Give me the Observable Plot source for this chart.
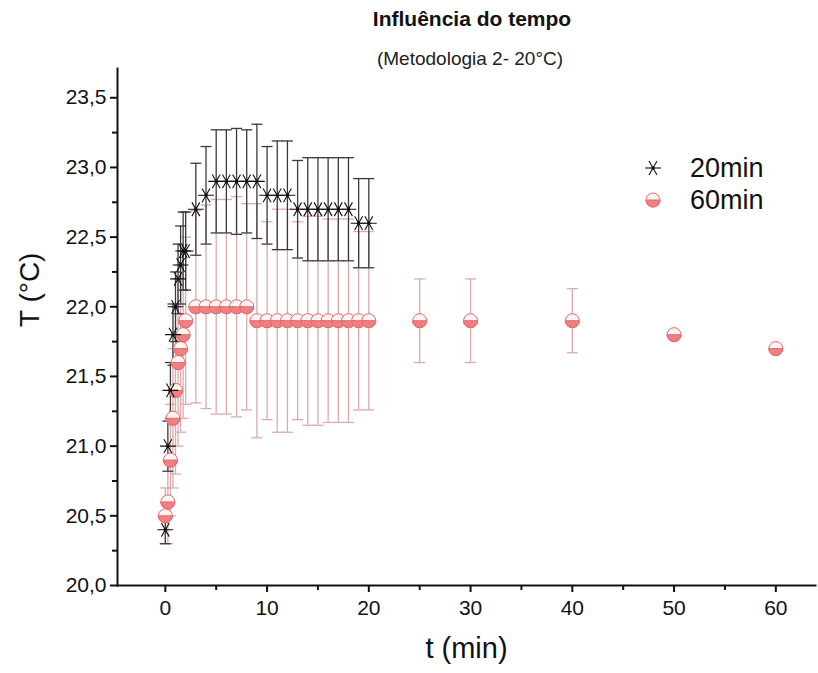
<!DOCTYPE html>
<html>
<head>
<meta charset="utf-8">
<script src="https://cdn.jsdelivr.net/npm/d3@7"></script>
<script src="https://cdn.jsdelivr.net/npm/@observablehq/plot@0.6"></script>
<style>
  body { margin: 0; background: #fff; font-family: "Liberation Sans", Arial, sans-serif; }
  #wrap { position: relative; width: 818px; height: 673px; }
  #title { position: absolute; left: 117px; width: 710px; top: 7px; text-align: center; font-weight: bold; font-size: 21px; color: #111; }
  #subtitle { position: absolute; left: 117px; width: 706px; top: 48px; text-align: center; font-size: 19px; color: #222; }
  #chart { position: absolute; left: 0; top: 62px; }
  #legend { position: absolute; left: 640px; top: 152px; font-size: 27px; color: #111; }
  .lg { display: flex; align-items: center; height: 32px; }
  .lg svg { margin-right: 24px; }
</style>
</head>
<body>
<div id="wrap">
  <div id="title">Influência do tempo</div>
  <div id="subtitle">(Metodologia 2- 20°C)</div>
  <div id="chart"></div>
  <div id="legend"></div>
</div>
<script>
// ---- data ----
const seriesNames = ["20min", "60min"];

const t20 = [0, 0.25, 0.5, 0.75, 1, 1.25, 1.5, 1.75, 2, 3, 4, 5, 6, 7, 8, 9, 10, 11, 12, 13, 14, 15, 16, 17, 18, 19, 20];
const T20 = [20.4, 21.0, 21.4, 21.8, 22.0, 22.2, 22.3, 22.4, 22.4, 22.7, 22.8, 22.9, 22.9, 22.9, 22.9, 22.9, 22.8, 22.8, 22.8, 22.7, 22.7, 22.7, 22.7, 22.7, 22.7, 22.6, 22.6];
const sd20 = [0.1, 0.18, 0.2, 0.22, 0.25, 0.25, 0.28, 0.28, 0.28, 0.33, 0.35, 0.37, 0.37, 0.38, 0.37, 0.41, 0.35, 0.39, 0.39, 0.35, 0.37, 0.37, 0.37, 0.37, 0.37, 0.32, 0.32];

const t60 = [0, 0.25, 0.5, 0.75, 1, 1.25, 1.5, 1.75, 2, 3, 4, 5, 6, 7, 8, 9, 10, 11, 12, 13, 14, 15, 16, 17, 18, 19, 20, 25, 30, 40, 50, 60];
const T60 = [20.5, 20.6, 20.9, 21.2, 21.4, 21.6, 21.7, 21.8, 21.9, 22.0, 22.0, 22.0, 22.0, 22.0, 22.0, 21.9, 21.9, 21.9, 21.9, 21.9, 21.9, 21.9, 21.9, 21.9, 21.9, 21.9, 21.9, 21.9, 21.9, 21.9, 21.8, 21.7];
const sd60 = [0.2, 0.3, 0.4, 0.5, 0.6, 0.6, 0.6, 0.6, 0.6, 0.69, 0.73, 0.77, 0.77, 0.79, 0.74, 0.84, 0.71, 0.8, 0.8, 0.71, 0.75, 0.75, 0.73, 0.73, 0.73, 0.64, 0.64, 0.3, 0.3, 0.23, 0, 0];

const xTicks = [0, 10, 20, 30, 40, 50, 60];
const xMinorTicks = [-5, 5, 15, 25, 35, 45, 55];
const yTicks = [20.0, 20.5, 21.0, 21.5, 22.0, 22.5, 23.0, 23.5];
const yMinorTicks = [20.25, 20.75, 21.25, 21.75, 22.25, 22.75, 23.25];
const xLabel = "t (min)";
const yLabel = "T (°C)";

// ---- build tables ----
const d20 = t20.map((t, i) => ({t, T: T20[i], lo: T20[i] - sd20[i], hi: T20[i] + sd20[i], sd: sd20[i]}));
const d60 = t60.map((t, i) => ({t, T: T60[i], lo: T60[i] - sd60[i], hi: T60[i] + sd60[i], sd: sd60[i]}));
const d60e = d60.filter(d => d.sd > 0);

const pinkFill = "#ef7f80";
const pinkStroke = "#e46a6c";
const pinkBar = "#dcaaaa";
const blackBar = "#3a3a3a";

const capSymbol = { draw(ctx, size) { const w = 5.5; ctx.moveTo(-w, 0); ctx.lineTo(w, 0); } };
const halfSymbol = { draw(ctx, size) { const r = Math.sqrt(size / Math.PI); ctx.moveTo(-r, 0); ctx.arc(0, 0, r, 0, Math.PI); ctx.closePath(); } };

const fmt = d => d.toFixed(1).replace(".", ",");
const font = "Liberation Sans, Arial, sans-serif";

const plot = Plot.plot({
  width: 818,
  height: 611,
  marginTop: 6,
  marginBottom: 88,
  marginLeft: 117,
  marginRight: 3,
  style: { fontFamily: font, color: "#111", background: "transparent" },
  x: { domain: [-4.7, 63.9] },
  y: { domain: [20, 23.71] },
  marks: [
    Plot.axisX({ ticks: xTicks, tickSize: 7, tickPadding: 8, fontSize: 21, strokeWidth: 2, label: null, tickFormat: d => String(d) }),
    Plot.axisX({ ticks: xMinorTicks.filter(d => d > -4.7), tickSize: 5, strokeWidth: 2, label: null, tickFormat: () => "" }),
    Plot.axisY({ ticks: yTicks, tickSize: 7, tickPadding: 4, fontSize: 21, strokeWidth: 2, label: null, tickFormat: fmt }),
    Plot.axisY({ ticks: yMinorTicks, tickSize: 5, strokeWidth: 2, label: null, tickFormat: () => "" }),
    Plot.frame({ anchor: "bottom", strokeWidth: 2, stroke: "#111" }),
    Plot.frame({ anchor: "left", strokeWidth: 2, stroke: "#111" }),
    Plot.text([xLabel], { frameAnchor: "bottom", dy: 72, fontSize: 29, fill: "#111" }),
    Plot.text([yLabel], { frameAnchor: "left", dx: -87, rotate: -90, fontSize: 28, fill: "#111" }),
    // 60min error bars
    Plot.ruleX(d60e, { x: "t", y1: "lo", y2: "hi", stroke: pinkBar, strokeWidth: 1.3 }),
    Plot.dot(d60e, { x: "t", y: "lo", symbol: capSymbol, stroke: pinkBar, strokeWidth: 1.3, r: 5 }),
    Plot.dot(d60e, { x: "t", y: "hi", symbol: capSymbol, stroke: pinkBar, strokeWidth: 1.3, r: 5 }),
    // 20min error bars
    Plot.ruleX(d20, { x: "t", y1: "lo", y2: "hi", stroke: blackBar, strokeWidth: 1.3 }),
    Plot.dot(d20, { x: "t", y: "lo", symbol: capSymbol, stroke: blackBar, strokeWidth: 1.3, r: 5 }),
    Plot.dot(d20, { x: "t", y: "hi", symbol: capSymbol, stroke: blackBar, strokeWidth: 1.3, r: 5 }),
    // 60min points
    Plot.dot(d60, { x: "t", y: "T", r: 7, fill: "#fff5f5", stroke: pinkStroke, strokeWidth: 1 }),
    Plot.dot(d60, { x: "t", y: "T", r: 7, symbol: halfSymbol, fill: pinkFill, stroke: pinkStroke, strokeWidth: 1 }),
    // 20min points
    Plot.dot(d20, { x: "t", y: "T", r: 7.5, symbol: "asterisk", rotate: 90, stroke: "#111", strokeWidth: 1.1 }),
    Plot.dot(d20, { x: "t", y: "T", r: 1.8, fill: "#111" })
  ]
});
document.getElementById("chart").appendChild(plot);

// ---- legend ----
const legend = document.getElementById("legend");
const lgStar = `<svg width="26" height="26" viewBox="-13 -13 26 26"><g transform="rotate(90)" stroke="#111" stroke-width="1.1">${[0,60,120].map(a => `<line x1="0" y1="-8" x2="0" y2="8" transform="rotate(${a})"/>`).join("")}</g><circle r="1.8" fill="#111"/></svg>`;
const lgCirc = `<svg width="26" height="26" viewBox="-13 -13 26 26"><circle r="7" fill="#fff5f5" stroke="${pinkStroke}"/><path d="M-7,0A7,7 0 0 0 7,0Z" fill="${pinkFill}" stroke="${pinkStroke}"/></svg>`;
legend.innerHTML = `<div class="lg">${lgStar}<span>${seriesNames[0]}</span></div><div class="lg">${lgCirc}<span>${seriesNames[1]}</span></div>`;
</script>
</body>
</html>
